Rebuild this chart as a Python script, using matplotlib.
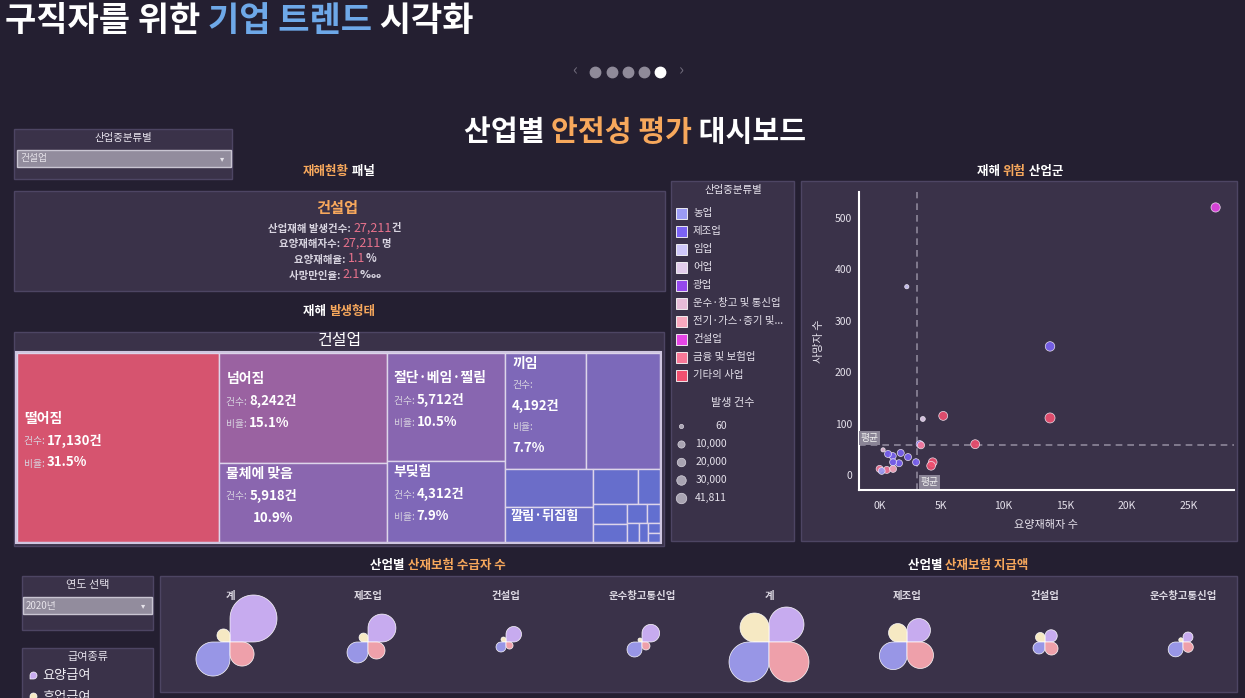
import numpy as np
import matplotlib
matplotlib.use('Agg')
import matplotlib.pyplot as plt
from matplotlib.patches import Rectangle, Polygon
from matplotlib.offsetbox import TextArea, HPacker, AnnotationBbox

FONT = ['Noto Sans CJK KR', 'DejaVu Sans']
plt.rcParams['font.family'] = FONT

# ---------------- data ----------------
sel_industry = '건설업'
stat_cases = 27211
stat_injured = 27211
stat_rate = 1.1
stat_death_rate = 2.1

tm_names = ['떨어짐', '넘어짐', '물체에 맞음', '절단·베임·찔림', '부딪힘', '끼임',
            '무리한 동작', '사업장외 교통사고', '깔림·뒤집힘', '감전', '화재', '폭발·파열',
            '빠짐·익사', '이상온도 접촉', '화학물질 누출·접촉', '체육행사', '폭력행위', '동물상해', '기타']
tm_values = [17130, 8242, 5918, 5712, 4312, 4192, 3854, 1500, 1382, 703, 351, 295,
             280, 165, 110, 105, 75, 55, 49]
tm_full_labels = ['떨어짐', '넘어짐', '물체에 맞음', '절단·베임·찔림', '부딪힘', '끼임']
tm_name_only = ['깔림·뒤집힘']

legend_cats = ['농업', '제조업', '임업', '어업', '광업', '운수·창고 및 통신업',
               '전기·가스·증기 및 수도사업', '건설업', '금융 및 보험업', '기타의 사업']
legend_colors = ['#9b9bf5', '#7b63f5', '#cfc8fa', '#e3cdec', '#9548ee', '#e6bcd8',
                 '#f8a8be', '#e646e6', '#f87898', '#f05070']
size_legend = [60, 10000, 20000, 30000, 41811]

sc_cat = ['건설업', '제조업', '기타의 사업', '기타의 사업', '기타의 사업', '임업', '어업',
          '제조업', '금융 및 보험업', '기타의 사업', '기타의 사업', '제조업', '제조업',
          '제조업', '제조업', '제조업', '제조업', '제조업', '농업', '금융 및 보험업',
          '금융 및 보험업', '전기·가스·증기 및 수도사업', '운수·창고 및 통신업']
sc_injured = [27211, 13800, 13800, 5150, 7740, 2200, 3500, 3250, 3350, 4300, 4170,
              680, 1710, 2300, 2950, 1090, 1570, 1060, 170, 0, 580, 1090, 280]
sc_deaths = [520, 250, 111, 115, 60, 366, 109, 60, 58, 25, 18,
             41, 43, 35, 25, 25, 23, 37, 8, 12, 10, 12, 49]
sc_cases = [27211, 30000, 36000, 24000, 24000, 60, 900, 10000, 10000, 22000, 22000,
            9000, 9000, 9000, 9000, 9000, 9000, 9000, 8000, 9000, 9000, 9000, 60]
avg_injured = 3000
avg_deaths = 58.5

groups = ['계', '제조업', '건설업', '운수창고통신업']
benefit_types = ['요양급여', '휴업급여', '장해급여', '유족급여']
benefit_colors = ['#cdb0f6', '#fdf0c8', '#9c9aec', '#f5a4ae']
recipients = [[221, 17, 116, 58], [78, 8, 44, 29], [24, 2.5, 10, 5], [31, 1.6, 22.5, 6.4]]
payments = [[122.5, 84, 160, 160], [55, 34, 76, 70], [15, 9, 14.4, 17], [10, 1.8, 22, 10.6]]
year_sel = '2020년'

# ---------------- style ----------------
BG = '#241f31'
PANEL = '#3a3249'
EDGE = '#4d4563'
ORANGE = '#f7a85c'
BLUE_T = '#6ea8e8'
PINK = '#e8728c'
TXT = '#e6e2ec'

fig = plt.figure(figsize=(12.45, 6.98), dpi=100)
fig.patch.set_facecolor(BG)
bg = fig.add_axes([0, 0, 1, 1])
bg.set_xlim(0, 1245)
bg.set_ylim(698, 0)
bg.axis('off')


def box(x, y, w, h, fc=PANEL, ec=EDGE, lw=1.0, z=1):
    bg.add_patch(Rectangle((x, y), w, h, fc=fc, ec=ec, lw=lw, zorder=z))


def rich(x, y, parts, ha='center', z=5):
    kids = [TextArea(t, textprops=dict(color=c, fontsize=s, fontweight=w, family=FONT))
            for t, c, s, w in parts]
    pack = HPacker(children=kids, align='baseline', pad=0, sep=0)
    al = {'center': (0.5, 0.5), 'left': (0, 0.5), 'right': (1, 0.5)}[ha]
    ab = AnnotationBbox(pack, (x, y), xycoords='data', frameon=False,
                        box_alignment=al, pad=0, annotation_clip=False, zorder=z)
    bg.add_artist(ab)


def txt(x, y, s, size, color=TXT, weight='normal', ha='center', va='center', z=5):
    bg.text(x, y, s, fontsize=size, color=color, fontweight=weight, ha=ha, va=va,
            zorder=z, family=FONT)


def dropdown(x, y, w, h, label):
    box(x, y, w, h, fc='#928c9d', ec='#c9c5d2', lw=1.0, z=2)
    txt(x + 3, y + h / 2, label, 7, color='#e6e3ea', ha='left', z=3)
    txt(x + w - 9, y + h / 2, '▾', 6, color='#e6e3ea', z=3)


# ---------------- header ----------------
rich(5, 21, [('구직자를 위한 ', 'white', 24.5, 'black'), ('기업 트렌드', BLUE_T, 24.5, 'black'),
             (' 시각화', 'white', 24.5, 'black')], ha='left')
txt(575, 71, '‹', 12, color='#6f6a7a')
txt(681, 71, '›', 12, color='#6f6a7a')
for i, xx in enumerate([595, 612, 628, 644, 660]):
    bg.plot(xx, 72, 'o', ms=7.5, color='white' if i == 4 else '#8f8a99', zorder=4)

rich(635, 132, [('산업별 ', 'white', 21, 'bold'), ('안전성 평가', ORANGE, 21, 'bold'),
                (' 대시보드', 'white', 21, 'bold')])

# filter
box(14, 129, 218, 50)
txt(123, 138, '산업중분류별', 7.5)
dropdown(17, 150, 214, 17, sel_industry)

# stats panel
rich(339, 171, [('재해현황', ORANGE, 9, 'bold'), (' 패널', 'white', 9, 'bold')])
box(14, 191, 651, 100)
txt(337, 208, sel_industry, 11, color=ORANGE, weight='bold')
LG = '#d8d4e0'
rich(335, 228, [('산업재해 발생건수: ', LG, 7.5, 'bold'), (f'{stat_cases:,}', PINK, 9, 'normal'),
                ('건', LG, 7.5, 'bold')])
rich(335, 243, [('요양재해자수: ', LG, 7.5, 'bold'), (f'{stat_injured:,}', PINK, 9, 'normal'),
                ('명', LG, 7.5, 'bold')])
rich(335, 259, [('요양재해율: ', LG, 7.5, 'bold'), (f'{stat_rate}', PINK, 9, 'normal'),
                ('%', LG, 8, 'bold')])
rich(335, 275, [('사망만인율: ', LG, 7.5, 'bold'), (f'{stat_death_rate}', PINK, 9, 'normal'),
                ('‱', LG, 8, 'bold')])

# ---------------- treemap ----------------
rich(339, 311, [('재해 ', 'white', 9, 'bold'), ('발생형태', ORANGE, 9, 'bold')])
box(14, 332, 650, 214)
txt(339, 341, sel_industry, 11.5, color='white')


def treemap_layout(vals, x, y, w, h, strips):
    rects = []
    rem = float(sum(vals))
    i = 0
    for k in strips:
        grp = vals[i:i + k]
        gs = float(sum(grp))
        if w >= h:
            cw = w * gs / rem
            yy = y
            for v in grp:
                hh = h * v / gs
                rects.append((x, yy, cw, hh))
                yy += hh
            x += cw
            w -= cw
        else:
            rh = h * gs / rem
            xx = x
            for v in grp:
                ww = w * v / gs
                rects.append((xx, y, ww, rh))
                xx += ww
            y += rh
            h -= rh
        rem -= gs
        i += k
    return rects


TX, TY, TW, TH = 17, 353, 643, 189
rects = treemap_layout(tm_values, TX, TY, TW, TH, [1, 2, 2, 2, 2, 2, 2, 2, 1, 1, 1, 1])
total = sum(tm_values)
vmin, vmax = min(tm_values), max(tm_values)
c_lo = np.array([98, 111, 208]) / 255
c_hi = np.array([214, 84, 111]) / 255
for name, v, (x, y, w, h) in zip(tm_names, tm_values, rects):
    t = (v - vmin) / (vmax - vmin)
    col = c_lo + (c_hi - c_lo) * t
    bg.add_patch(Rectangle((x, y), w, h, fc=col, ec='#ddd5ea', lw=1.0, zorder=2))
    lx = x + 7
    pct = v / total * 100
    if name in tm_full_labels:
        if w >= 100:
            cy = y + h / 2 - 7
            txt(lx, cy - 22, name, 10, color='white', weight='bold', ha='left')
            rich(lx, cy, [('건수: ', LG, 7, 'normal'), (f'{v:,}건', 'white', 9.5, 'bold')], ha='left')
            if name == '물체에 맞음':
                rich(lx + 27, cy + 22, [(f'{pct:.1f}%', 'white', 9.5, 'bold')], ha='left')
            else:
                rich(lx, cy + 22, [('비율: ', LG, 7, 'normal'), (f'{pct:.1f}%', 'white', 9.5, 'bold')],
                     ha='left')
        else:
            cy = y + h / 2 - 5
            txt(lx, cy - 42, name, 10, color='white', weight='bold', ha='left')
            txt(lx, cy - 21, '건수:', 7, color=LG, ha='left')
            txt(lx, cy, f'{v:,}건', 9.5, color='white', weight='bold', ha='left')
            txt(lx, cy + 21, '비율:', 7, color=LG, ha='left')
            txt(lx, cy + 42, f'{pct:.1f}%', 9.5, color='white', weight='bold', ha='left')
    elif name in tm_name_only:
        txt(lx - 1, y + 9, name, 9.5, color='white', weight='bold', ha='left')
bg.add_patch(Rectangle((TX - 1, TY - 1), TW + 2, TH + 2, fc='none', ec='#cfc6e0', lw=1.5, zorder=3))

# ---------------- legend ----------------
box(671, 181, 123, 360)
txt(733, 190, '산업중분류별', 7.5)
for i, (c, col) in enumerate(zip(legend_cats, legend_colors)):
    yy = 213 + 18 * i
    bg.add_patch(Rectangle((676, yy - 5.5), 11, 11, fc=col, ec='#ffffff', lw=0.6, zorder=3))
    label = c if len(c) <= 12 else c[:10] + '...'
    txt(693, yy, label, 7.5, ha='left')
txt(733, 403, '발생 건수', 8)


def marker_s(count):
    d = 4 + 6.5 * np.sqrt(np.asarray(count, dtype=float) / max(size_legend))
    return (d * 0.72) ** 2


for i, cnt in enumerate(size_legend):
    yy = 426 + 18 * i
    bg.scatter([681], [yy], s=marker_s(cnt), color='#a9a4b2', edgecolors='#d8d4de',
               linewidths=0.5, zorder=4)
    txt(727, yy, f'{cnt:,}', 7.5, ha='right')

# ---------------- scatter ----------------
rich(1020, 171, [('재해 ', 'white', 9, 'bold'), ('위험', ORANGE, 9, 'bold'),
                 (' 산업군', 'white', 9, 'bold')])
box(801, 181, 436, 360)
ax = fig.add_axes([859 / 1245, 1 - 490 / 698, (1234 - 859) / 1245, (490 - 192) / 698])
ax.patch.set_alpha(0)
ax.set_xlim(-1670, 28700)
ax.set_ylim(-29, 550)
cmap = dict(zip(legend_cats, legend_colors))
order = np.argsort(sc_cases)[::-1]
xs = np.array(sc_injured)[order]
ys = np.array(sc_deaths)[order]
cs = [cmap[sc_cat[i]] for i in order]
ss = marker_s(np.array(sc_cases)[order])
ax.scatter(xs, ys, s=ss, c=cs, alpha=0.9, edgecolors='#f4eef8', linewidths=0.5, zorder=4)
ax.axvline(avg_injured, color='#8d879a', lw=1.2, ls=(0, (4, 3)), zorder=2)
ax.axhline(avg_deaths, color='#8d879a', lw=1.2, ls=(0, (4, 3)), zorder=2)
ax.text(0.004, avg_deaths + 4, '평균', transform=ax.get_yaxis_transform(), fontsize=7,
        color='#f0f0f0', ha='left', va='bottom', zorder=5,
        bbox=dict(fc='#8a8496', ec='none', pad=1.2))
ax.text(avg_injured + 300, 0.01, '평균', transform=ax.get_xaxis_transform(), fontsize=7,
        color='#f0f0f0', ha='left', va='bottom', zorder=5,
        bbox=dict(fc='#8a8496', ec='none', pad=1.2))
ax.set_xticks([0, 5000, 10000, 15000, 20000, 25000])
ax.set_xticklabels(['0K', '5K', '10K', '15K', '20K', '25K'])
ax.set_yticks([0, 100, 200, 300, 400, 500])
ax.tick_params(colors=TXT, labelsize=7.5, length=0)
ax.tick_params(axis='x', pad=8)
ax.tick_params(axis='y', pad=5)
for s in ['top', 'right']:
    ax.spines[s].set_visible(False)
for s in ['left', 'bottom']:
    ax.spines[s].set_color('white')
    ax.spines[s].set_linewidth(1.5)
ax.set_xlabel('요양재해자 수', color=TXT, fontsize=8, labelpad=6)
ax.set_ylabel('사망자 수', color=TXT, fontsize=8, labelpad=8)

# ---------------- bottom flowers ----------------
rich(438, 566, [('산업별 ', 'white', 9, 'bold'), ('산재보험 수급자 수', ORANGE, 9, 'bold')])
rich(968, 566, [('산업별 ', 'white', 9, 'bold'), ('산재보험 지급액', ORANGE, 9, 'bold')])
box(22, 576, 131, 54)
txt(87.5, 585, '연도 선택', 8)
dropdown(23, 597, 129, 17, year_sel)
box(22, 648, 131, 70)
txt(87.5, 657, '급여종류', 8)
box(160, 576, 1077, 116)

QUAD = [(1, -1), (-1, -1), (-1, 1), (1, 1)]


def petal(cx, cy, s, sx, sy, col, z=4):
    r = s / 2
    th = np.linspace(-np.pi / 2, np.pi, 60)
    u = np.concatenate([[0, r], r + r * np.cos(th), [0]])
    v = np.concatenate([[0, 0], r + r * np.sin(th), [0]])
    verts = np.column_stack([cx + sx * u, cy + sy * v])
    bg.add_patch(Polygon(verts, closed=True, fc=col, ec='#ffffff', lw=0.5, alpha=0.97, zorder=z))


def flowers(data, centers):
    for g, vals, cx in zip(groups, data, centers):
        txt(cx, 596, g, 7.5, color='#dcd8e2', weight='bold')
        for v, (sx, sy), col in zip(vals, QUAD, benefit_colors):
            petal(cx, 642, np.sqrt(v * 10), sx, sy, col)


flowers(recipients, [230, 368, 506, 642])
flowers(payments, [769, 907, 1045, 1183])

for i, (bt, col) in enumerate(zip(benefit_types[:2], benefit_colors[:2])):
    yy = 676 + 21 * i
    petal(30, yy + 3, 7, 1, -1, col)
    txt(42, yy, bt, 9.5, color='#f0eef4', ha='left')

fig.savefig('out.png', dpi=100, facecolor=BG)
